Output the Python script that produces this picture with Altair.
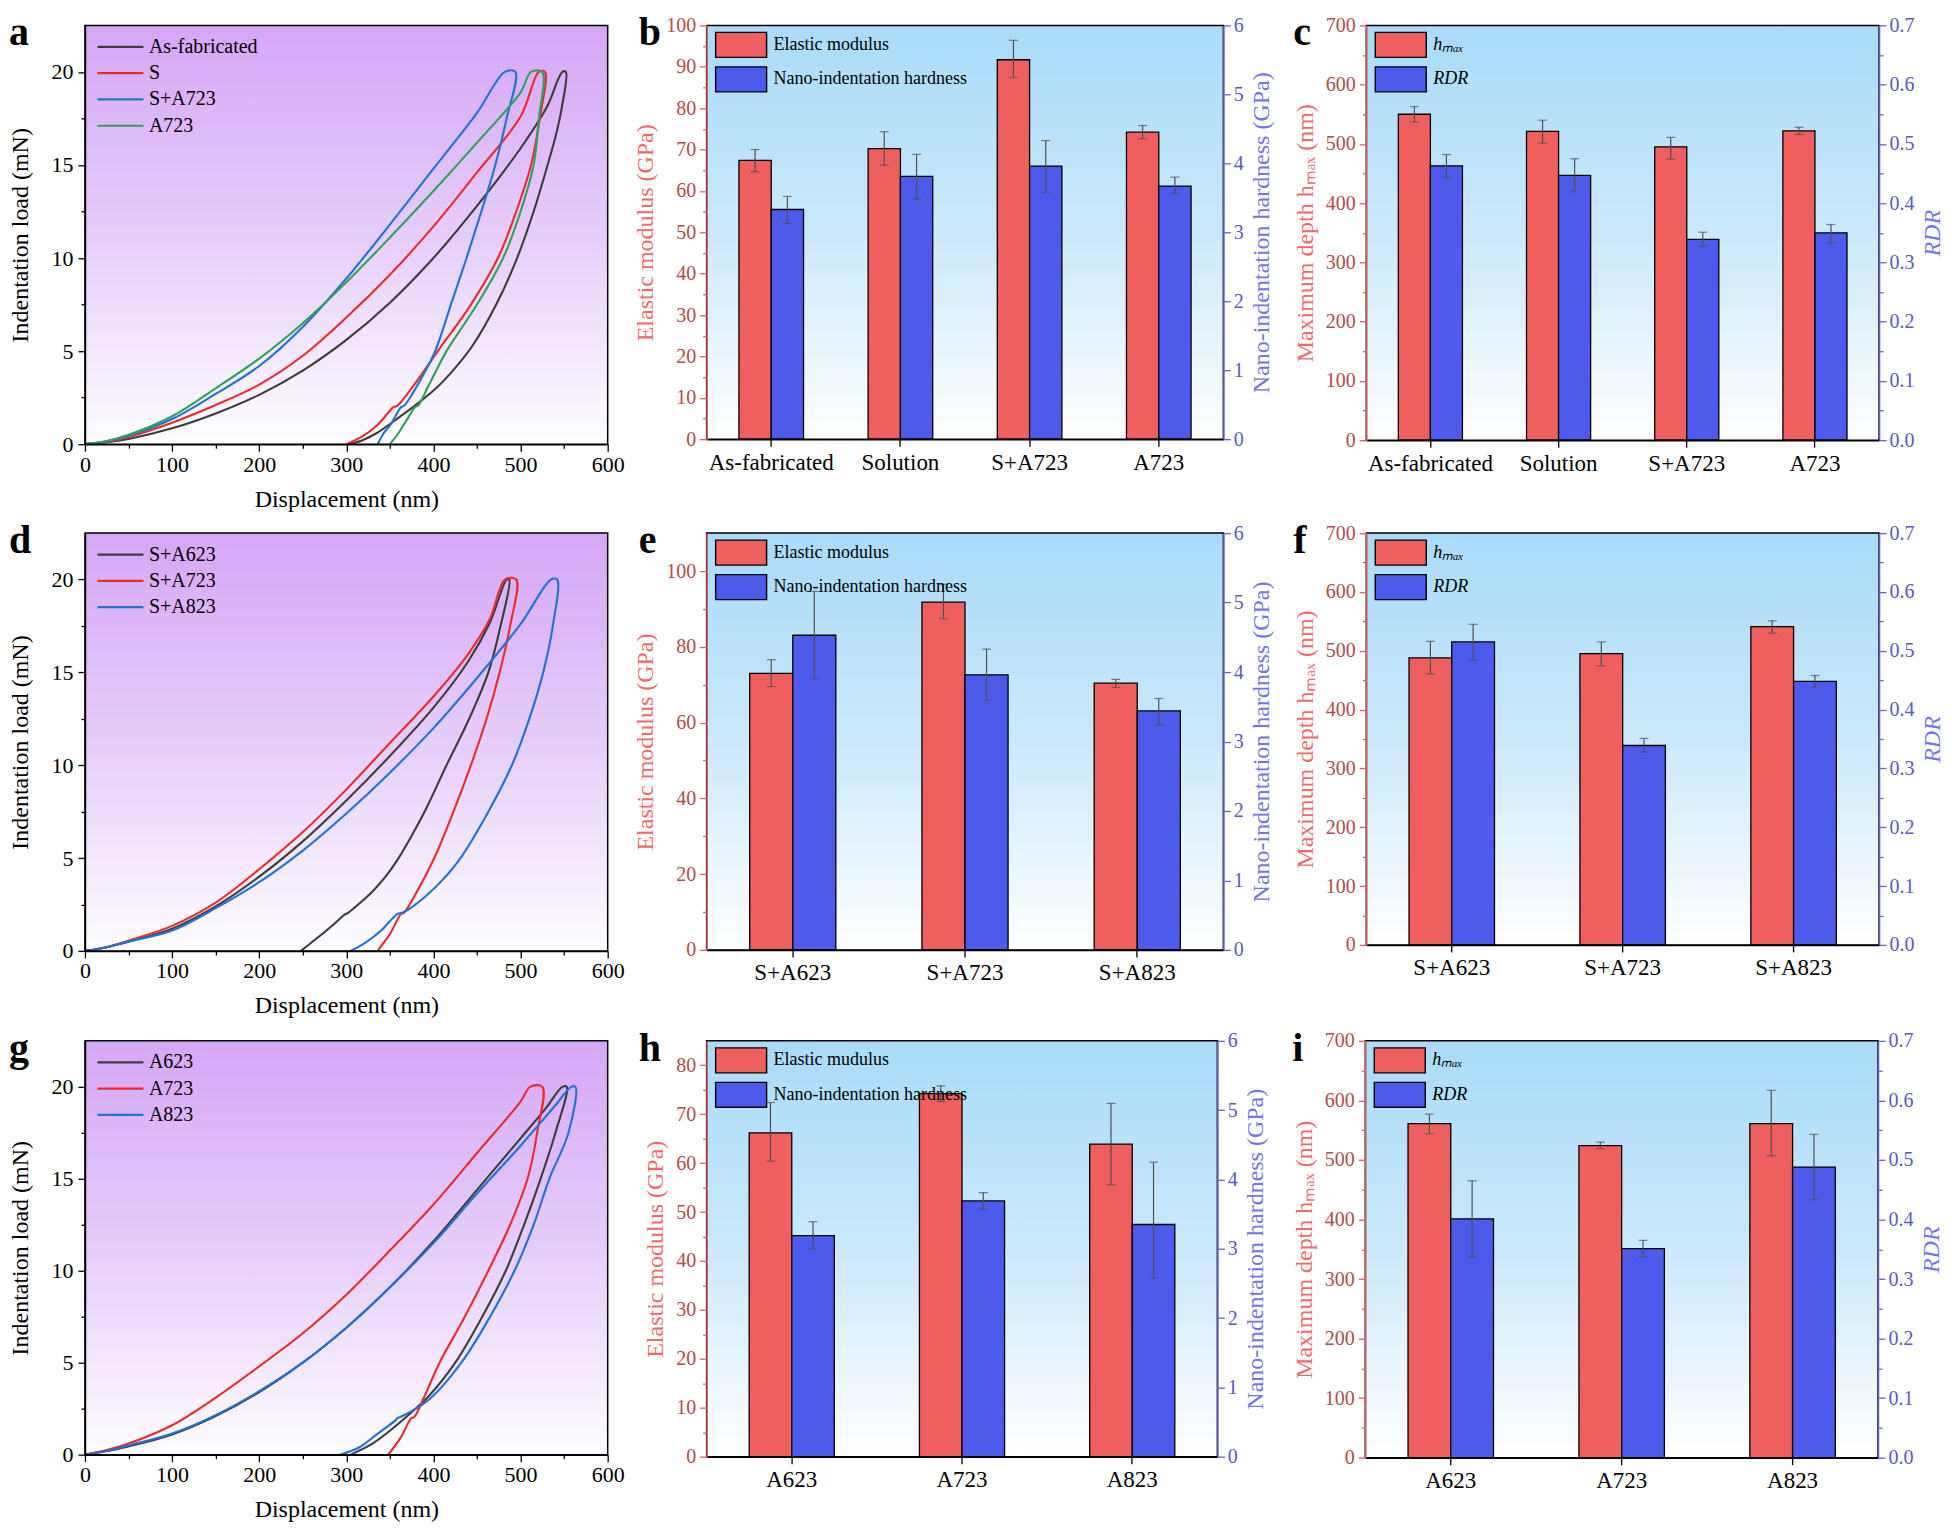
import altair as alt
import pandas as pd

FONT = "Liberation Serif"

# ---------------- panel a : load-displacement curves ----------------
a_names = ["As-fabricated", "S", "S+A723", "A723"]
a_colors = ["#3c3c3c", "#ec2a2a", "#1f72d8", "#2ea25a"]
a_asfab_x = [0, 25, 50, 100, 150, 200, 250, 300, 350, 400, 450, 500, 530, 548, 552, 547, 540, 531, 515, 496, 472, 445, 425, 403, 385, 371, 352, 335, 318, 303]
a_asfab_y = [0, 0.1, 0.28, 0.85, 1.65, 2.65, 3.95, 5.6, 7.6, 10.0, 12.8, 15.9, 18.1, 20, 20, 18, 16.5, 15, 12.5, 10, 7.5, 5.3, 4.1, 3.0, 2.3, 1.8, 1.15, 0.6, 0.2, 0]
a_s_x = [0, 25, 50, 100, 150, 200, 250, 300, 350, 400, 450, 500, 521, 528, 522, 512, 495, 474, 443, 405, 378, 358, 354, 351, 335, 318, 300]
a_s_y = [0, 0.12, 0.38, 1.15, 2.1, 3.2, 4.75, 6.8, 9.1, 11.7, 14.6, 17.6, 20, 20, 17.5, 15, 12.5, 10, 7.5, 5, 3.2, 2.05, 2.0, 1.85, 1.0, 0.4, 0]
a_sa723_x = [0, 25, 50, 100, 150, 200, 250, 300, 350, 400, 450, 482, 494, 484, 471, 455, 438, 420, 402, 382, 366, 363, 360, 350, 343, 336]
a_sa723_y = [0, 0.15, 0.45, 1.35, 2.7, 4.2, 6.3, 8.9, 11.8, 14.8, 17.8, 20, 20, 17.5, 15, 12.5, 10, 7.5, 5, 3.2, 2.05, 2.0, 1.8, 1.0, 0.6, 0]
a_a723_x = [0, 25, 50, 100, 150, 200, 250, 300, 350, 400, 450, 500, 512, 525, 521, 515, 500, 480, 450, 415, 395, 382, 379, 376, 368, 360, 350]
a_a723_y = [0, 0.17, 0.5, 1.5, 3.0, 4.6, 6.5, 8.7, 11.1, 13.6, 16.2, 18.9, 20, 20, 17.5, 15, 12.5, 10, 7.5, 5, 3.2, 2.05, 2.0, 1.8, 1.2, 0.6, 0]

# ---------------- panel d ----------------
d_names = ["S+A623", "S+A723", "S+A823"]
d_colors = ["#3c3c3c", "#ec2a2a", "#1f72d8"]
d_sa623_x = [0, 25, 50, 100, 150, 200, 250, 300, 350, 400, 440, 465, 484, 487, 477, 463, 441, 415, 392, 375, 360, 345, 330, 315, 302, 298, 286, 272, 260, 248]
d_sa623_y = [0, 0.2, 0.5, 1.2, 2.4, 4.0, 5.9, 8.1, 10.5, 13.1, 15.6, 17.7, 20, 20, 17.5, 15, 12.5, 10, 7.7, 6.2, 5.0, 4.0, 3.2, 2.55, 2.05, 1.95, 1.45, 0.9, 0.45, 0]
d_sa723_x = [0, 25, 50, 100, 150, 200, 250, 300, 350, 400, 440, 465, 482, 495, 488, 476, 461, 443, 423, 401, 380, 366, 363, 360, 350, 343, 336]
d_sa723_y = [0, 0.2, 0.55, 1.35, 2.6, 4.4, 6.4, 8.7, 11.2, 13.7, 16.0, 17.9, 20, 20, 17.5, 15, 12.5, 10, 7.5, 5, 3.1, 2.05, 2.0, 1.8, 0.9, 0.45, 0]
d_sa823_x = [0, 25, 50, 100, 150, 200, 250, 300, 350, 400, 450, 500, 535, 542, 537, 526, 510, 490, 463, 431, 410, 390, 372, 364, 359, 354, 340, 322, 305]
d_sa823_y = [0, 0.2, 0.5, 1.1, 2.3, 3.7, 5.4, 7.4, 9.6, 12.0, 14.7, 17.6, 20, 20, 17.5, 15, 12.5, 10, 7.5, 5, 3.8, 2.9, 2.25, 2.05, 2.0, 1.8, 1.1, 0.45, 0]

# ---------------- panel g ----------------
g_names = ["A623", "A723", "A823"]
g_colors = ["#3c3c3c", "#ec2a2a", "#1f72d8"]
g_a623_x = [0, 25, 50, 100, 150, 200, 250, 300, 350, 400, 450, 500, 530, 548, 553, 540, 523, 504, 483, 456, 425, 395, 370, 350, 330, 305]
g_a623_y = [0, 0.2, 0.45, 1.1, 2.1, 3.4, 5.0, 6.9, 9.1, 11.6, 14.4, 17.2, 18.9, 20, 20, 17.5, 15, 12.5, 10, 7.5, 5, 3.2, 2.1, 1.3, 0.6, 0]
g_a723_x = [0, 25, 50, 100, 150, 200, 250, 300, 350, 400, 450, 500, 511, 525, 519, 508, 488, 463, 436, 407, 390, 378, 375, 372, 362, 348]
g_a723_y = [0, 0.25, 0.6, 1.6, 3.1, 4.8, 6.6, 8.7, 11.1, 13.6, 16.4, 19.2, 20, 20, 17.5, 15, 12.5, 10, 7.5, 5, 3.2, 2.05, 2.0, 1.8, 0.9, 0]
g_a823_x = [0, 25, 50, 100, 150, 200, 250, 300, 350, 400, 450, 500, 540, 558, 563, 555, 533, 515, 493, 465, 432, 395, 362, 359, 356, 335, 315, 293]
g_a823_y = [0, 0.2, 0.5, 1.15, 2.15, 3.45, 5.0, 6.9, 9.1, 11.5, 14.2, 16.8, 19.0, 20, 20, 17.5, 15, 12.5, 10, 7.5, 5, 3, 2.05, 2.0, 1.85, 1.1, 0.4, 0]

# ---------------- bar panels ----------------
b_cats = ["As-fabricated", "Solution", "S+A723", "A723"]
b_E = [67.4, 70.2, 91.7, 74.2]
b_E_lo = [64.6, 66.2, 87.4, 72.6]
b_E_hi = [70.0, 74.3, 96.4, 75.8]
b_H = [3.33, 3.81, 3.96, 3.67]
b_H_lo = [3.13, 3.48, 3.58, 3.57]
b_H_hi = [3.52, 4.13, 4.33, 3.80]

c_cats = ["As-fabricated", "Solution", "S+A723", "A723"]
c_h = [550, 521, 495, 522]
c_h_lo = [537, 501, 474, 516]
c_h_hi = [563, 540, 511, 528]
c_R = [0.463, 0.447, 0.339, 0.350]
c_R_lo = [0.444, 0.419, 0.327, 0.333]
c_R_hi = [0.482, 0.475, 0.351, 0.364]

e_cats = ["S+A623", "S+A723", "S+A823"]
e_E = [73.0, 91.8, 70.4]
e_E_lo = [69.5, 87.4, 69.3]
e_E_hi = [76.6, 96.5, 71.4]
e_H = [4.53, 3.96, 3.44]
e_H_lo = [3.90, 3.59, 3.24]
e_H_hi = [5.16, 4.33, 3.62]

f_cats = ["S+A623", "S+A723", "S+A823"]
f_h = [488, 495, 541]
f_h_lo = [461, 474, 530]
f_h_hi = [516, 515, 551]
f_R = [0.515, 0.339, 0.448]
f_R_lo = [0.484, 0.328, 0.437]
f_R_hi = [0.545, 0.351, 0.458]

h_cats = ["A623", "A723", "A823"]
h_E = [66.2, 74.2, 63.9]
h_E_lo = [60.4, 72.6, 55.6]
h_E_hi = [72.4, 75.8, 72.2]
h_H = [3.19, 3.69, 3.35]
h_H_lo = [3.00, 3.57, 2.58]
h_H_hi = [3.39, 3.81, 4.25]

i_cats = ["A623", "A723", "A823"]
i_h = [561, 524, 561]
i_h_lo = [544, 519, 507]
i_h_hi = [577, 530, 617]
i_R = [0.401, 0.351, 0.488]
i_R_lo = [0.337, 0.337, 0.433]
i_R_hi = [0.465, 0.365, 0.543]

# ---------------- tick values ----------------
disp_ticks = [0, 50, 100, 150, 200, 250, 300, 350, 400, 450, 500, 550, 600]
load_ticks = [0, 2.5, 5, 7.5, 10, 12.5, 15, 17.5, 20]
E100_ticks = [0, 5, 10, 15, 20, 25, 30, 35, 40, 45, 50, 55, 60, 65, 70, 75, 80, 85, 90, 95, 100]
E110_ticks = [0, 10, 20, 30, 40, 50, 60, 70, 80, 90, 100]
E85_ticks = [0, 5, 10, 15, 20, 25, 30, 35, 40, 45, 50, 55, 60, 65, 70, 75, 80]
H_ticks = [0, 0.5, 1, 1.5, 2, 2.5, 3, 3.5, 4, 4.5, 5, 5.5, 6]
hmax_ticks = [0, 50, 100, 150, 200, 250, 300, 350, 400, 450, 500, 550, 600, 650, 700]
RDR_ticks = [0, 0.05, 0.1, 0.15, 0.2, 0.25, 0.3, 0.35, 0.4, 0.45, 0.5, 0.55, 0.6, 0.65, 0.7]

PURPLE = alt.LinearGradient(gradient="linear", x1=0, x2=0, y1=0, y2=1,
                            stops=[alt.GradientStop(offset=0, color="#d5a7f7"),
                                   alt.GradientStop(offset=0.5, color="#e6cdfa"),
                                   alt.GradientStop(offset=1, color="#fefdff")])
SKY = alt.LinearGradient(gradient="linear", x1=0, x2=0, y1=0, y2=1,
                         stops=[alt.GradientStop(offset=0, color="#a9dbf9"),
                                alt.GradientStop(offset=0.5, color="#cbe9fb"),
                                alt.GradientStop(offset=1, color="#ffffff")])
RED = "#ef5f5f"
BLUE = "#4d5aec"
ERR = "#505050"
AX_RED = "#d96060"
LAB_RED = "#b04c4c"
TIT_RED = "#f06a6a"
AX_BLUE = "#6464c8"
LAB_BLUE = "#5a5ac0"
TIT_BLUE = "#7474e6"

one = pd.DataFrame({"k": [0]})


def tsize(test, major=7, minor=4):
    return {"condition": {"test": test, "value": major}, "value": minor}


def common_parts(w, h, grad, letter, ldx, ldy, box):
    L, R, T, B = box
    # invisible box that fixes the panel's outer extent in the grid
    ext = alt.Chart(one).mark_rect(opacity=0).encode(
        x=alt.value(-L), x2=alt.value(w + R), y=alt.value(-T), y2=alt.value(h + B))
    bg = alt.Chart(one).mark_rect(fill=grad).encode(
        x=alt.value(0), x2=alt.value(w), y=alt.value(0), y2=alt.value(h))
    frame = alt.Chart(one).mark_rect(fillOpacity=0, stroke="black", strokeWidth=1.5).encode(
        x=alt.value(0), x2=alt.value(w), y=alt.value(0), y2=alt.value(h))
    lab = alt.Chart(one).mark_text(text=letter, font=FONT, fontSize=40, fontWeight="bold",
                                   align="left", baseline="alphabetic", color="black").encode(
        x=alt.value(ldx), y=alt.value(ldy))
    return ext, bg, frame, lab


def line_panel(curves, names, colors, letter, w, h, ldx, ldy, box):
    rows = []
    for name, (xs, ys) in zip(names, curves):
        for k, (xv, yv) in enumerate(zip(xs, ys)):
            rows.append({"series": name, "disp": xv, "load": yv, "idx": k})
    df = pd.DataFrame(rows)
    ext, bg, frame, lab = common_parts(w, h, PURPLE, letter, ldx, ldy, box)
    xaxis = alt.Axis(title="Displacement (nm)", values=disp_ticks,
                     labelExpr="datum.value % 100 === 0 ? datum.label : ''",
                     tickSize=tsize("datum.value % 100 === 0"), format="d",
                     labelFlush=False, labelOverlap=False, grid=False, zindex=1,
                     domainColor="black", tickColor="black", labelColor="black", titleColor="black",
                     domainWidth=1.5, tickWidth=1.3, labelFont=FONT, titleFont=FONT,
                     labelFontSize=22, titleFontSize=24, titleFontWeight="normal",
                     labelPadding=3, titlePadding=12)
    yaxis = alt.Axis(title="Indentation load (mN)", values=load_ticks,
                     labelExpr="datum.value % 5 === 0 ? datum.label : ''",
                     tickSize=tsize("datum.value % 5 === 0"), format="~g",
                     labelOverlap=False, grid=False, zindex=1,
                     domainColor="black", tickColor="black", labelColor="black", titleColor="black",
                     domainWidth=1.5, tickWidth=1.3, labelFont=FONT, titleFont=FONT,
                     labelFontSize=22, titleFontSize=24, titleFontWeight="normal",
                     labelPadding=5, titlePadding=18)
    leg = alt.Legend(title=None, orient="none", legendX=24, legendY=10, padding=0,
                     symbolType="M-2.3,0H2.3", symbolSize=400, symbolStrokeWidth=2.2,
                     labelFont=FONT, labelFontSize=20, labelColor="black", labelOffset=17,
                     labelFontStyle="normal", rowPadding=4.3, labelLimit=400)
    lines = alt.Chart(df).mark_line(strokeWidth=2.1, interpolate="catmull-rom").encode(
        x=alt.X("disp:Q", scale=alt.Scale(domain=[0, 600], nice=False, zero=False), axis=xaxis),
        y=alt.Y("load:Q", scale=alt.Scale(domain=[0, 22.5], nice=False), axis=yaxis),
        color=alt.Color("series:N", scale=alt.Scale(domain=names, range=colors), legend=leg),
        order=alt.Order("idx:Q"))
    return alt.layer(ext, bg, lines, frame, lab).properties(width=w, height=h)


def left_axis(title, values, major_test, fmt):
    return alt.Axis(orient="left", title=title, values=values, labelExpr=f"({major_test}) ? datum.label : ''",
                    tickSize=tsize(major_test), format=fmt, labelOverlap=False, grid=False, zindex=1,
                    domainColor=AX_RED, tickColor=AX_RED, labelColor=LAB_RED, titleColor=TIT_RED,
                    domainWidth=1.5, tickWidth=1.3, labelFont=FONT, titleFont=FONT,
                    labelFontSize=20, titleFontSize=24, titleFontWeight="normal",
                    labelPadding=4, titlePadding=8)


def right_axis(title, values, major_test, fmt, italic):
    kw = dict(titleFontStyle="italic") if italic else {}
    return alt.Axis(orient="right", title=title, values=values, labelExpr=f"({major_test}) ? datum.label : ''",
                    tickSize=tsize(major_test), format=fmt, labelOverlap=False, grid=False, zindex=1,
                    domainColor=AX_BLUE, tickColor=AX_BLUE, labelColor=LAB_BLUE, titleColor=TIT_BLUE,
                    domainWidth=1.5, tickWidth=1.3, labelFont=FONT, titleFont=FONT,
                    labelFontSize=20, titleFontSize=24, titleFontWeight="normal",
                    labelPadding=3, titlePadding=6, titleAngle=270, titleBaseline="top", **kw)


def bar_panel(cats, s1, v1, lo1, hi1, dom1, ax1, s2, v2, lo2, hi2, dom2, ax2,
              letter, w, h, ldx, ldy, box, italic_legend=False):
    d1 = pd.DataFrame({"cat": cats, "series": s1, "val": v1, "lo": lo1, "hi": hi1})
    d2 = pd.DataFrame({"cat": cats, "series": s2, "val": v2, "lo": lo2, "hi": hi2})
    xaxis = alt.Axis(title=None, labelAngle=0, domainColor="black", tickColor="black", labelColor="black",
                     domainWidth=1.5, tickWidth=1.3, tickSize=7, labelFont=FONT, labelFontSize=23,
                     labelPadding=5, zindex=1, grid=False)
    xenc = alt.X("cat:N", sort=cats, scale=alt.Scale(paddingInner=0.5, paddingOuter=0.25), axis=xaxis)
    xoff = alt.XOffset("series:N", sort=[s1, s2],
                       scale=alt.Scale(domain=[s1, s2], paddingInner=0, paddingOuter=0))
    leg = alt.Legend(title=None, orient="none", legendX=21, legendY=6, padding=0,
                     symbolType="M-2.04,-1H2.04V1H-2.04Z", symbolSize=625,
                     symbolStrokeColor="black", symbolStrokeWidth=1.4, symbolOpacity=1,
                     labelFont=FONT, labelFontSize=18, labelColor="black", labelOffset=19,
                     labelFontStyle="italic" if italic_legend else "normal",
                     rowPadding=3.5, labelLimit=400)
    color = alt.Color("series:N", scale=alt.Scale(domain=[s1, s2], range=[RED, BLUE]), legend=leg)

    def group(df, dom, ax):
        ys = alt.Scale(domain=dom, nice=False, zero=True)
        bars = alt.Chart(df).mark_bar(stroke="black", strokeWidth=1.3, opacity=1).encode(
            x=xenc, xOffset=xoff, y=alt.Y("val:Q", scale=ys, axis=ax), color=color)
        rule = alt.Chart(df).mark_rule(color=ERR, strokeWidth=1.2).encode(
            x=xenc, xOffset=xoff, y=alt.Y("lo:Q", scale=ys, axis=ax), y2="hi:Q")
        cap1 = alt.Chart(df).mark_tick(color=ERR, size=9, thickness=1.2).encode(
            x=xenc, xOffset=xoff, y=alt.Y("hi:Q", scale=ys, axis=ax))
        cap2 = alt.Chart(df).mark_tick(color=ERR, size=9, thickness=1.2).encode(
            x=xenc, xOffset=xoff, y=alt.Y("lo:Q", scale=ys, axis=ax))
        return alt.layer(bars, rule, cap1, cap2)

    ext, bg, frame, lab = common_parts(w, h, SKY, letter, ldx, ldy, box)
    g1 = group(d1, dom1, ax1)
    g2 = group(d2, dom2, ax2)
    return alt.layer(ext, bg, g1, g2, frame, lab).resolve_scale(y="independent").properties(width=w, height=h)


E_T = "Elastic modulus (GPa)"
H_T = "Nano-indentation hardness (GPa)"
D_T = "Maximum depth h\u2098\u2090\u2093 (nm)"
HM = "h\u2098\u2090\u2093"
RDR_TEST = "abs(datum.value*10 - round(datum.value*10)) < 0.001"

# outer extents (left, right, top, bottom) of each panel
BOX_A = (77, 17, 17, 69)
BOX_B = (82, 58, 17, 69)
BOX_C = (85, 64, 17, 69)
BOX_D = (77, 17, 20, 70)
BOX_E = (82, 58, 20, 70)
BOX_F = (85, 64, 20, 70)
BOX_G = (77, 17, 20, 68)
BOX_H = (82, 63, 20, 68)
BOX_I = (85, 64, 20, 68)

pa = line_panel([(a_asfab_x, a_asfab_y), (a_s_x, a_s_y), (a_sa723_x, a_sa723_y), (a_a723_x, a_a723_y)],
                a_names, a_colors, "a", 523, 419, -76, 20, BOX_A)
pb = bar_panel(b_cats, "Elastic modulus", b_E, b_E_lo, b_E_hi, [0, 100],
               left_axis(E_T, E100_ticks, "datum.value % 10 === 0", "d"),
               "Nano-indentation hardness", b_H, b_H_lo, b_H_hi, [0, 6],
               right_axis(H_T, H_ticks, "datum.value % 1 === 0", "d", False),
               "b", 517, 414, -68, 20, BOX_B)
pc = bar_panel(c_cats, HM, c_h, c_h_lo, c_h_hi, [0, 700],
               left_axis(D_T, hmax_ticks, "datum.value % 100 === 0", "d"),
               "RDR", c_R, c_R_lo, c_R_hi, [0, 0.7],
               right_axis("RDR", RDR_ticks, RDR_TEST, ".1f", True),
               "c", 513, 415, -73, 20, BOX_C, italic_legend=True)

pd_ = line_panel([(d_sa623_x, d_sa623_y), (d_sa723_x, d_sa723_y), (d_sa823_x, d_sa823_y)],
                 d_names, d_colors, "d", 523, 418, -76, 20, BOX_D)
pe = bar_panel(e_cats, "Elastic modulus", e_E, e_E_lo, e_E_hi, [0, 110],
               left_axis(E_T, E110_ticks, "datum.value % 20 === 0", "d"),
               "Nano-indentation hardness", e_H, e_H_lo, e_H_hi, [0, 6],
               right_axis(H_T, H_ticks, "datum.value % 1 === 0", "d", False),
               "e", 517, 417, -68, 20, BOX_E)
pf = bar_panel(f_cats, HM, f_h, f_h_lo, f_h_hi, [0, 700],
               left_axis(D_T, hmax_ticks, "datum.value % 100 === 0", "d"),
               "RDR", f_R, f_R_lo, f_R_hi, [0, 0.7],
               right_axis("RDR", RDR_ticks, RDR_TEST, ".1f", True),
               "f", 513, 412, -73, 20, BOX_F, italic_legend=True)

pg = line_panel([(g_a623_x, g_a623_y), (g_a723_x, g_a723_y), (g_a823_x, g_a823_y)],
                g_names, g_colors, "g", 523, 414, -76, 20, BOX_G)
ph = bar_panel(h_cats, "Elastic mudulus", h_E, h_E_lo, h_E_hi, [0, 85],
               left_axis(E_T, E85_ticks, "datum.value % 10 === 0", "d"),
               "Nano-indentation hardness", h_H, h_H_lo, h_H_hi, [0, 6],
               right_axis(H_T, H_ticks, "datum.value % 1 === 0", "d", False),
               "h", 511, 416, -68, 20, BOX_H)
pi = bar_panel(i_cats, HM, i_h, i_h_lo, i_h_hi, [0, 700],
               left_axis(D_T, hmax_ticks, "datum.value % 100 === 0", "d"),
               "RDR", i_R, i_R_lo, i_R_hi, [0, 0.7],
               right_axis("RDR", RDR_ticks, RDR_TEST, ".1f", True),
               "i", 513, 417, -73, 20, BOX_I, italic_legend=True)


def row(*panels):
    return (alt.hconcat(*panels, spacing=0)
            .resolve_scale(color="independent", xOffset="independent")
            .resolve_legend(color="independent"))


chart = (alt.vconcat(row(pa, pb, pc), row(pd_, pe, pf), row(pg, ph, pi), spacing=0)
         .resolve_scale(color="independent", xOffset="independent")
         .resolve_legend(color="independent")
         .properties(padding={"left": 0, "top": 0, "right": 0, "bottom": 0}, background="white")
         .configure_view(strokeWidth=0))

chart.save("out.html", embed_options={"renderer": "svg", "actions": False})
